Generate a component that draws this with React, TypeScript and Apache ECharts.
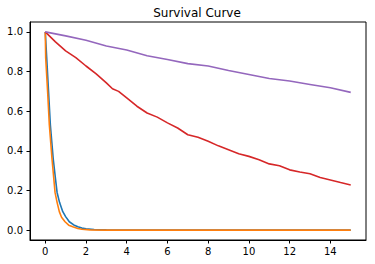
import React, { useEffect, useRef } from "react";
import * as echarts from "echarts";

const title = "Survival Curve";
const xTicks = [0, 2, 4, 6, 8, 10, 12, 14];
const yTicks = [0, 0.2, 0.4, 0.6, 0.8, 1.0];

const blueX = [0, 0.07, 0.16, 0.25, 0.39, 0.5, 0.58, 0.7, 0.86, 1.0, 1.18, 1.4, 1.6, 1.8, 2.0, 2.4, 3.0, 4.0, 15];
const blueY = [1.0, 0.87, 0.7, 0.53, 0.36, 0.26, 0.19, 0.14, 0.093, 0.068, 0.042, 0.026, 0.017, 0.01, 0.006, 0.003, 0.001, 0, 0];

const orangeX = [0, 0.02, 0.115, 0.2, 0.33, 0.48, 0.58, 0.69, 0.8, 0.97, 1.15, 1.35, 1.6, 1.8, 2.2, 3.0, 15];
const orangeY = [1.0, 0.87, 0.7, 0.53, 0.36, 0.19, 0.14, 0.093, 0.065, 0.042, 0.025, 0.017, 0.008, 0.004, 0.001, 0, 0];

const redX = [0, 0.5, 1, 1.5, 2, 2.5, 3, 3.3, 3.6, 4, 4.5, 5, 5.5, 6, 6.5, 7, 7.5, 8, 8.5, 9, 9.5, 10, 10.5, 11, 11.5, 12, 12.5, 13, 13.5, 14, 14.5, 15];
const redY = [1.0, 0.95, 0.904, 0.87, 0.828, 0.788, 0.743, 0.713, 0.7, 0.667, 0.625, 0.591, 0.57, 0.541, 0.515, 0.481, 0.468, 0.448, 0.425, 0.405, 0.385, 0.372, 0.355, 0.334, 0.325, 0.304, 0.293, 0.284, 0.265, 0.253, 0.24, 0.228];

const purpleX = [0, 1, 2, 3, 4, 5, 6, 7, 8, 9, 10, 11, 12, 13, 14, 15];
const purpleY = [1.0, 0.98, 0.958, 0.929, 0.909, 0.88, 0.861, 0.84, 0.828, 0.805, 0.785, 0.765, 0.752, 0.735, 0.718, 0.695];

const pairs = (xs: number[], ys: number[]) => xs.map((x, i) => [x, ys[i]]);

export default function App() {
  const ref = useRef<HTMLDivElement>(null);
  useEffect(() => {
    if (!ref.current) return;
    const chart = echarts.init(ref.current, null, { renderer: "svg" });
    const font = "DejaVu Sans";
    const mk = (name: string, data: number[][], color: string) => ({
      name,
      type: "line",
      data,
      showSymbol: false,
      symbol: "none",
      lineStyle: { width: 1.6, color },
      itemStyle: { color },
      z: 2,
    });
    chart.setOption({
      animation: false,
      backgroundColor: "#fff",
      title: {
        text: title,
        left: 192,
        textAlign: "center",
        top: 2,
        textStyle: { fontFamily: font, fontSize: 12, fontWeight: "normal", color: "#000" },
      },
      grid: {
        left: 30,
        right: 9,
        top: 22,
        bottom: 24,
        show: true,
        borderColor: "#000",
        borderWidth: 1,
        backgroundColor: "transparent",
      },
      xAxis: {
        type: "value",
        min: -0.75,
        max: 15.75,
        axisLine: { show: true, onZero: false, lineStyle: { color: "#000", width: 1 } },
        splitLine: { show: false },
        axisTick: { show: true, inside: false, length: 3.5, customValues: xTicks, lineStyle: { color: "#000" } },
        axisLabel: {
          customValues: xTicks,
          margin: 6,
          fontFamily: font,
          fontSize: 10,
          color: "#000",
          formatter: (v: number) => String(v),
        },
      },
      yAxis: {
        type: "value",
        min: -0.05,
        max: 1.05,
        axisLine: { show: true, onZero: false, lineStyle: { color: "#000", width: 1 } },
        splitLine: { show: false },
        axisTick: { show: true, inside: false, length: 3.5, customValues: yTicks, lineStyle: { color: "#000" } },
        axisLabel: {
          customValues: yTicks,
          margin: 7,
          fontFamily: font,
          fontSize: 10,
          color: "#000",
          formatter: (v: number) => v.toFixed(1),
        },
      },
      series: [
        mk("blue", pairs(blueX, blueY), "#1f77b4"),
        mk("orange", pairs(orangeX, orangeY), "#ff7f0e"),
        mk("red", pairs(redX, redY), "#d62728"),
        mk("purple", pairs(purpleX, purpleY), "#9467bd"),
      ],
    });
    return () => chart.dispose();
  }, []);
  return <div ref={ref} style={{ width: 375, height: 264, position: "fixed", left: 0, top: 0 }} />;
}
